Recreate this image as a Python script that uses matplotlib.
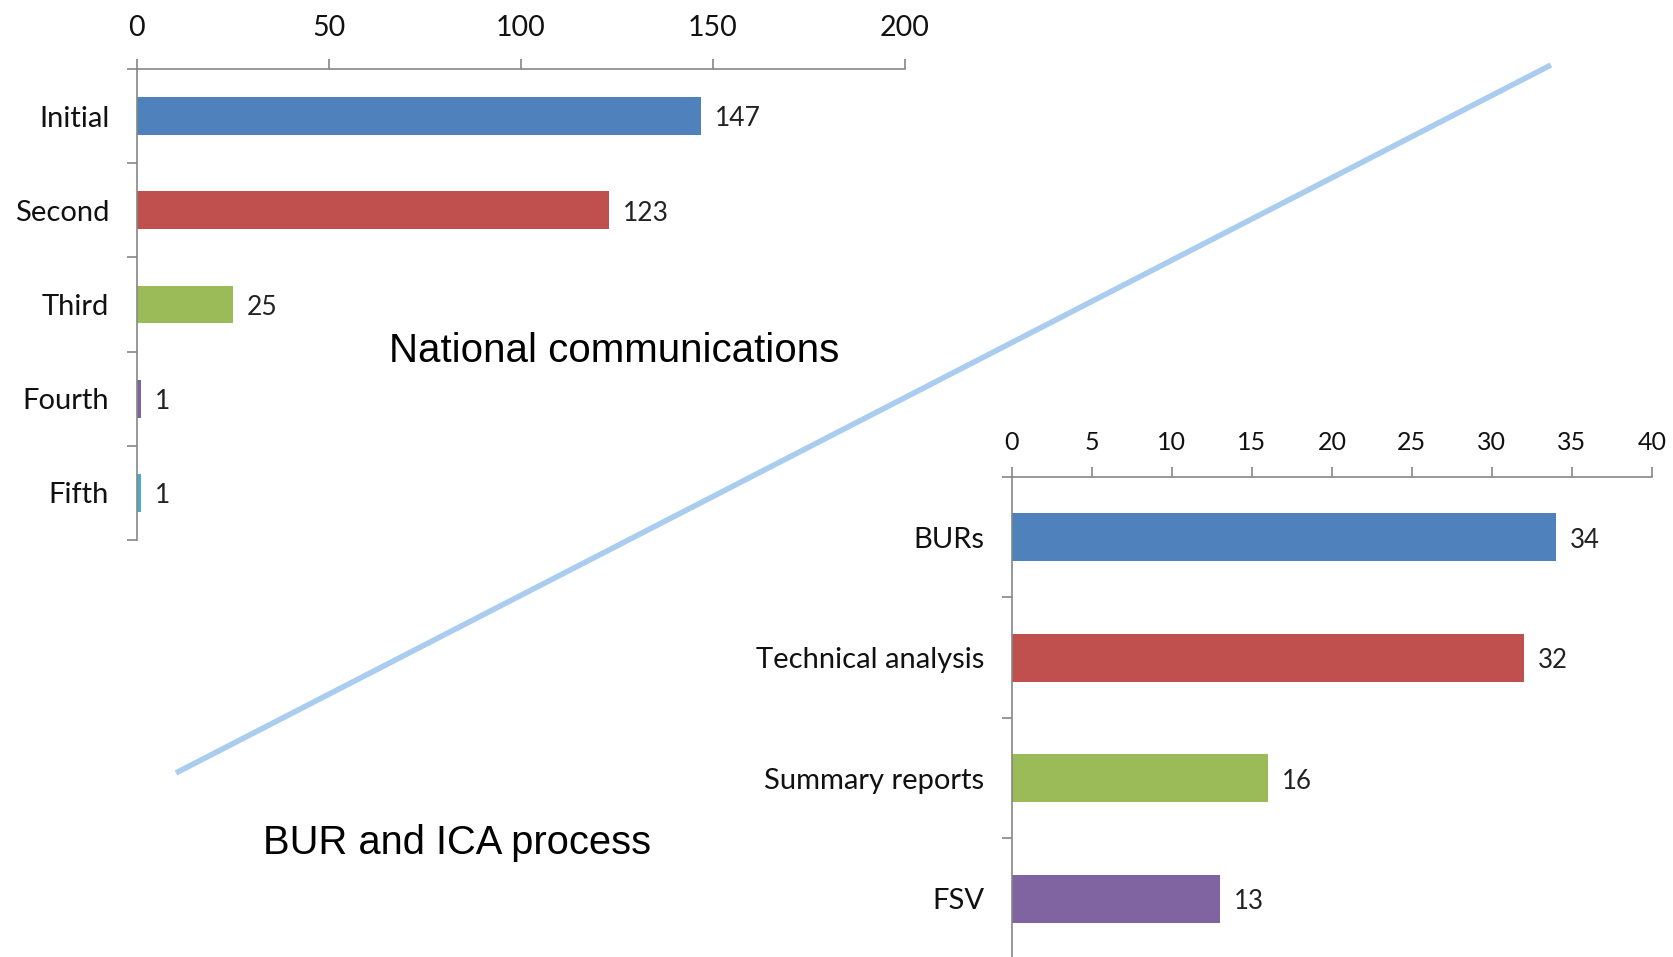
import matplotlib
matplotlib.use("Agg")
import matplotlib.pyplot as plt
from matplotlib.lines import Line2D
import numpy as np

# national communications
nc_labels = ["Initial", "Second", "Third", "Fourth", "Fifth"]
nc_values = [147, 123, 25, 1, 1]
nc_ticks = [0, 50, 100, 150, 200]

# BUR and ICA process
bur_labels = ["BURs", "Technical analysis", "Summary reports", "FSV"]
bur_values = [34, 32, 16, 13]
bur_ticks = [0, 5, 10, 15, 20, 25, 30, 35, 40]

colors = ["#4F81BD", "#C0504D", "#9BBB59", "#8064A2", "#4BACC6"]
axis_col = "#868686"

plt.rcParams["font.family"] = ["Lato", "DejaVu Sans"]

fig = plt.figure(figsize=(16.74, 9.57), dpi=100)


def excel_bars(ax, labels, values, ticks, tick_size, tick_pad, val_size):
    n = len(labels)
    y = np.arange(n)
    bars = ax.barh(y, values, height=0.4, color=colors[:n], zorder=2)
    anns = ax.bar_label(bars, labels=[str(v) for v in values], padding=10,
                        fontsize=val_size, color="#222222")
    for a in anns:
        a.xyann = (10, -2)  # excel puts them a touch low
    ax.set_xlim(ticks[0], ticks[-1])
    ax.set_xticks(ticks)
    ax.xaxis.tick_top()
    ax.set_ylim(n - 0.5, -0.5)
    ax.set_yticks(y)
    ax.set_yticklabels(labels)
    ax.set_yticks(np.arange(n + 1) - 0.5, minor=True)
    ax.tick_params(axis="y", which="major", length=0, pad=20, labelsize=21,
                   labelcolor="#111111")
    ax.tick_params(axis="y", which="minor", length=7, width=1.2, color=axis_col,
                   direction="out")
    # ticks sit above the axis line, like the original
    ax.tick_params(axis="x", which="major", length=7, width=1.2, color=axis_col,
                   direction="out", pad=tick_pad, labelsize=tick_size,
                   labelcolor="#111111")
    for s in ["right", "bottom"]:
        ax.spines[s].set_visible(False)
    for s in ["top", "left"]:
        ax.spines[s].set_color(axis_col)
        ax.spines[s].set_linewidth(1.2)
    ax.patch.set_visible(False)


ax1 = fig.add_axes([0.0818, 0.4357, 0.4588, 0.4922])
excel_bars(ax1, nc_labels, nc_values, nc_ticks, 20.5, 13, 19)

ax2 = fig.add_axes([0.6045, -0.0021, 0.3823, 0.5037])
excel_bars(ax2, bur_labels, bur_values, bur_ticks, 18, 9.5, 18.5)

# diagonal separator
fig.add_artist(Line2D([0.1051, 0.9265], [0.1923, 0.9321], transform=fig.transFigure,
                      color="#AACDEF", linewidth=4, solid_capstyle="butt"))

fig.text(0.367, 0.633, "National communications", fontsize=29,
         family="Liberation Sans", ha="center", va="center")
fig.text(0.273, 0.119, "BUR and ICA process", fontsize=28.7,
         family="Liberation Sans", ha="center", va="center")

fig.savefig("out.png", dpi=100)
